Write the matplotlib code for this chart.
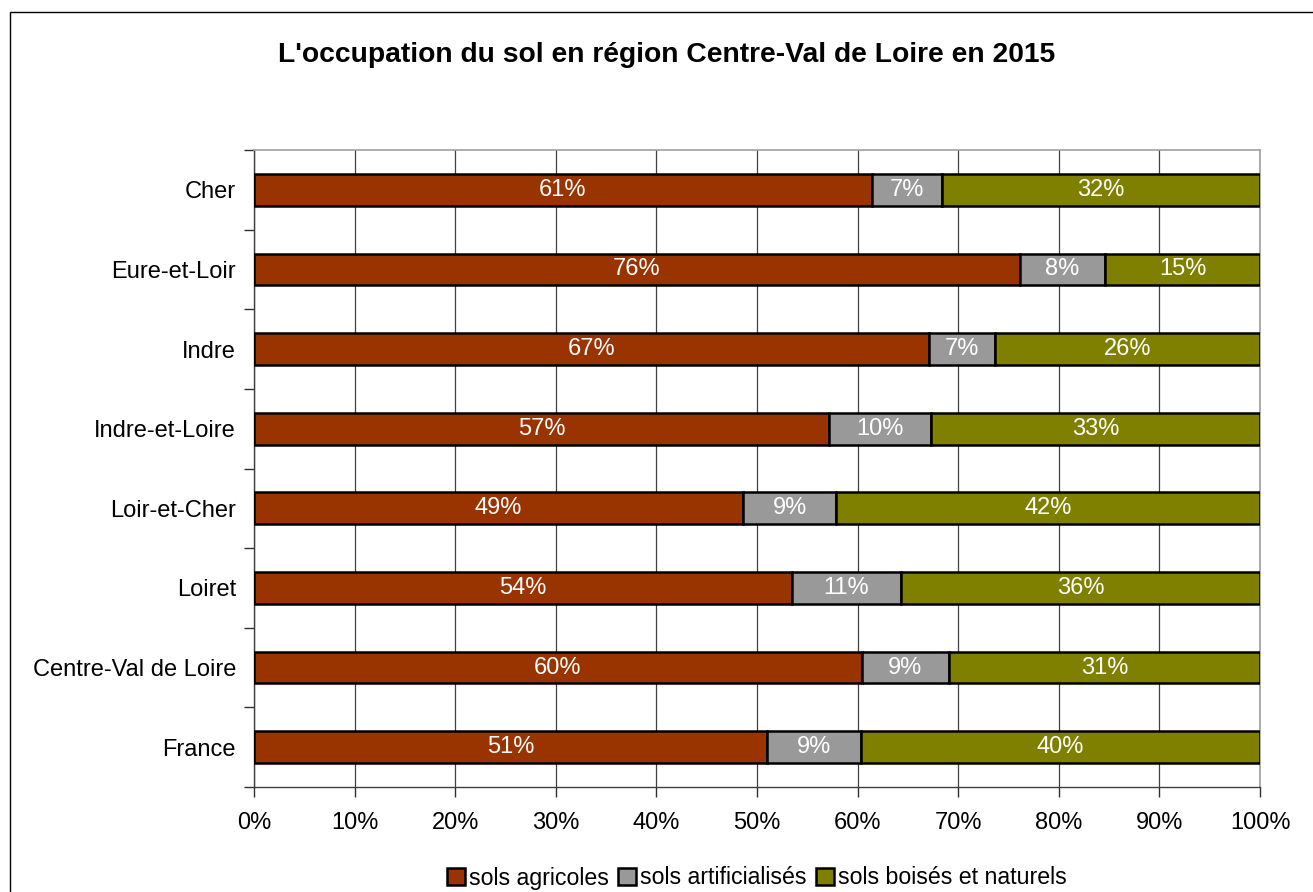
import numpy as np
import matplotlib.pyplot as plt
from matplotlib.patches import Rectangle
from matplotlib.ticker import FixedLocator, PercentFormatter

plt.rcParams['font.family'] = ['Liberation Sans', 'DejaVu Sans']

regions = ['Cher', 'Eure-et-Loir', 'Indre', 'Indre-et-Loire', 'Loir-et-Cher',
           'Loiret', 'Centre-Val de Loire', 'France']
agricoles = [61.4, 76.1, 67.1, 57.2, 48.6, 53.5, 60.4, 51.0]
artificialises = [7.0, 8.5, 6.6, 10.1, 9.3, 10.8, 8.7, 9.3]
boises = [31.6, 15.4, 26.3, 32.7, 42.1, 35.7, 30.9, 39.7]

series = [('sols agricoles', agricoles, '#993300'),
          ('sols artificialisés', artificialises, '#999999'),
          ('sols boisés et naturels', boises, '#808000')]

fig = plt.figure(figsize=(13.13, 8.92), dpi=100)
ax = fig.add_axes([254 / 1313, 1 - 787 / 892, 1006 / 1313, 637 / 892])

# cadre autour du graphique
fig.patches.append(Rectangle((10 / 1313, -0.1), 1.2, 1 - 12 / 892 + 0.1,
                             transform=fig.transFigure, fill=False,
                             edgecolor='black', linewidth=1.0))

y = np.arange(len(regions))
left = np.zeros(len(regions))
for name, vals, col in series:
    vals = np.array(vals)
    ax.barh(y, vals, left=left, height=0.4, color=col, edgecolor='black',
            linewidth=1.8, label=name, zorder=3)
    for yi, l, v in zip(y, left, vals):
        ax.text(l + v / 2, yi, f'{round(v):.0f}%', ha='center', va='center',
                color='white', fontsize=17, zorder=4)
    left += vals

ax.set_xlim(0, 100)
ax.set_ylim(len(regions) - 0.5, -0.5)
ax.xaxis.set_major_locator(FixedLocator(np.arange(0, 101, 10)))
ax.xaxis.set_major_formatter(PercentFormatter(decimals=0))
ax.set_yticks(y)
ax.set_yticklabels(regions)
ax.yaxis.set_minor_locator(FixedLocator(np.arange(-0.5, len(regions), 1)))
ax.tick_params(axis='y', which='major', length=0, pad=13, labelsize=17)
ax.tick_params(axis='y', which='minor', length=7, width=1.0, direction='out', color='#303030')
ax.tick_params(axis='x', length=7, width=1.0, direction='out', labelsize=17, pad=11, color='#303030')
ax.grid(axis='x', color='#404040', linewidth=0.9, zorder=0)

for s in ['top', 'right']:
    ax.spines[s].set_color('#a0a0a0')
    ax.spines[s].set_linewidth(1.2)
for s in ['left', 'bottom']:
    ax.spines[s].set_color('#404040')
    ax.spines[s].set_linewidth(1.0)

fig.text(667 / 1313, 1 - 55 / 892, "L'occupation du sol en région Centre-Val de Loire en 2015",
         ha='center', va='center', fontsize=20.3, fontweight='bold')

handles, labels = ax.get_legend_handles_labels()
fig.legend(handles, labels, loc='center', bbox_to_anchor=(757 / 1313, 1 - 878 / 892),
           ncol=3, frameon=False, fontsize=16.7, handlelength=0.75, handleheight=0.75,
           handletextpad=0.2, columnspacing=0.4, borderpad=0)

fig.savefig('out.png', dpi=100)
